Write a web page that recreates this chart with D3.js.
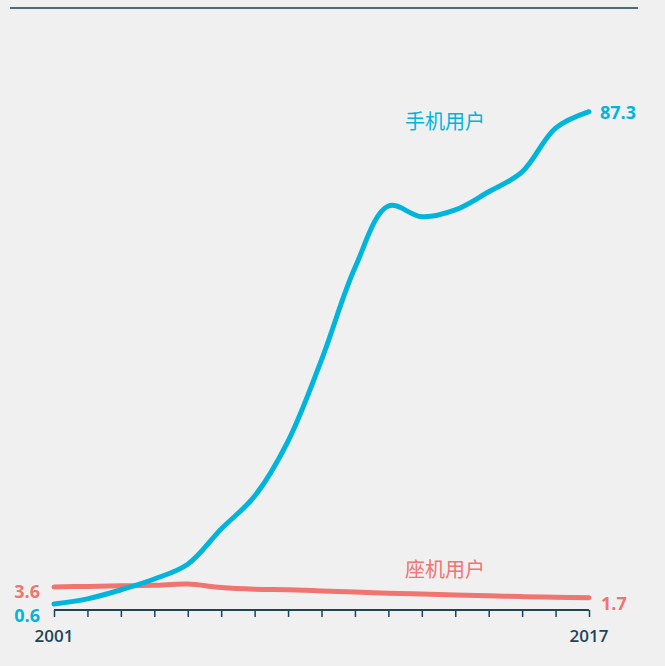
<!DOCTYPE html>
<html>
<head>
<meta charset="utf-8">
<script src="https://cdn.jsdelivr.net/npm/d3@7"></script>
<style>
  html, body { margin: 0; padding: 0; background: #f0f0f0; }
  svg { display: block; font-family: "Open Sans", "Noto Sans", "Noto Sans CJK SC", sans-serif; }
</style>
</head>
<body>
<svg id="chart" width="665" height="666"></svg>
<script>
// Subscribers per 100 people, 2001–2017
const years = d3.range(2001, 2018);
const mobile = [0.6, 1.5, 3.1, 5.0, 7.6, 13.8, 19.6, 29.3, 43.6, 59.8, 70.7, 68.8, 70.0, 73.2, 76.7, 84.4, 87.3];
const fixed = [3.6, 3.7, 3.8, 3.9, 4.1, 3.5, 3.2, 3.1, 2.9, 2.7, 2.5, 2.35, 2.2, 2.05, 1.9, 1.8, 1.7];
const seriesNames = ["手机用户", "座机用户"];
const tickLabels = ["2001", "2017"];

const colors = { mobile: "#00b5dc", fixed: "#f07470", axis: "#1d4555", rule: "#4d6b74" };

const svg = d3.select("#chart");

const x = d3.scaleLinear().domain([2001, 2017]).range([54, 589]);
const y = d3.scaleLinear().domain([0, 87.3]).range([607.4, 111.7]);

// top rule
svg.append("line")
  .attr("x1", 10).attr("x2", 638).attr("y1", 8).attr("y2", 8)
  .attr("stroke", colors.rule).attr("stroke-width", 2);

// x axis with a tick per year
const axis = d3.axisBottom(x)
  .tickValues(years)
  .tickSize(7)
  .tickFormat("");
const gx = svg.append("g").attr("transform", "translate(0,610)").call(axis);
gx.select(".domain").attr("stroke", colors.axis).attr("stroke-width", 2)
  .attr("d", `M${x(2001)},0H${x(2017)}`);
gx.selectAll(".tick line").attr("stroke", colors.axis).attr("stroke-width", 1.5);

svg.selectAll("text.year")
  .data(tickLabels)
  .join("text")
  .attr("class", "year")
  .attr("x", d => x(+d))
  .attr("y", 642)
  .attr("text-anchor", "middle")
  .attr("font-size", 17)
  .attr("font-weight", 600)
  .attr("fill", colors.axis)
  .text(d => d);

const line = d3.line()
  .x((d, i) => x(years[i]))
  .y(d => y(d))
  .curve(d3.curveCatmullRom.alpha(0.5));

svg.append("path")
  .datum(fixed)
  .attr("d", line)
  .attr("fill", "none")
  .attr("stroke", colors.fixed)
  .attr("stroke-width", 5)
  .attr("stroke-linecap", "round");

svg.append("path")
  .datum(mobile)
  .attr("d", line)
  .attr("fill", "none")
  .attr("stroke", colors.mobile)
  .attr("stroke-width", 5)
  .attr("stroke-linecap", "round");

// series names
svg.append("text")
  .attr("x", 405).attr("y", 129)
  .attr("font-size", 20).attr("fill", colors.mobile)
  .text(seriesNames[0]);
svg.append("text")
  .attr("x", 405).attr("y", 577)
  .attr("font-size", 20).attr("fill", colors.fixed)
  .text(seriesNames[1]);

// start / end values
const valueLabel = (txt, px, py, anchor, color) =>
  svg.append("text")
    .attr("x", px).attr("y", py)
    .attr("text-anchor", anchor)
    .attr("dominant-baseline", "central")
    .attr("font-size", 18).attr("font-weight", 700)
    .attr("fill", color)
    .text(txt);

valueLabel(fixed[0].toFixed(1), 40, y(fixed[0]) + 4, "end", colors.fixed);
valueLabel(mobile[0].toFixed(1), 40, y(mobile[0]) + 11, "end", colors.mobile);
valueLabel(mobile[16].toFixed(1), 600, y(mobile[16]), "start", colors.mobile);
valueLabel(fixed[16].toFixed(1), 601, y(fixed[16]) + 5, "start", colors.fixed);
</script>
</body>
</html>
